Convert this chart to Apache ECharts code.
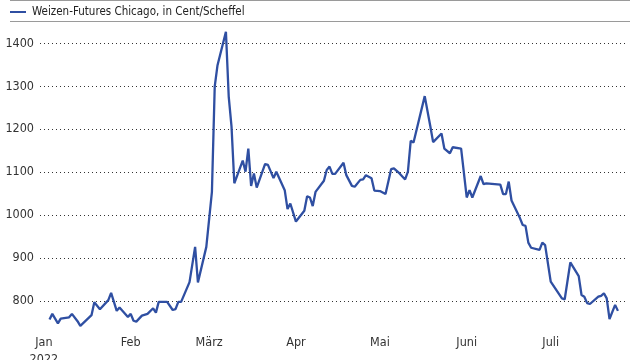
<!DOCTYPE html>
<html><head><meta charset="utf-8">
<script src="https://cdn.jsdelivr.net/npm/echarts@6/dist/echarts.min.js"></script>
<style>html,body{margin:0;padding:0;background:#fff}#c{width:640px;height:360px}</style>
</head><body><div id="c"></div>
<script>
const seriesName = 'Weizen-Futures Chicago, in Cent/Scheffel';
const dates = [
 '2022-01-03','2022-01-04','2022-01-06','2022-01-07','2022-01-10','2022-01-11','2022-01-13','2022-01-14','2022-01-18','2022-01-19',
 '2022-01-21','2022-01-24','2022-01-25','2022-01-27','2022-01-28','2022-01-31','2022-02-01','2022-02-02','2022-02-03','2022-02-05',
 '2022-02-07','2022-02-09','2022-02-10','2022-02-11','2022-02-14','2022-02-16','2022-02-17','2022-02-18','2022-02-19','2022-02-22',
 '2022-02-24','2022-02-25','2022-02-28','2022-03-02','2022-03-03','2022-03-04','2022-03-07','2022-03-08','2022-03-09','2022-03-10',
 '2022-03-13','2022-03-14','2022-03-15','2022-03-16','2022-03-17','2022-03-18','2022-03-21','2022-03-22','2022-03-24','2022-03-25',
 '2022-03-28','2022-03-29','2022-03-30','2022-04-01','2022-04-04','2022-04-05','2022-04-06','2022-04-07','2022-04-08','2022-04-11',
 '2022-04-12','2022-04-13','2022-04-14','2022-04-15','2022-04-18','2022-04-19','2022-04-21','2022-04-22','2022-04-24','2022-04-25',
 '2022-04-26','2022-04-28','2022-04-29','2022-05-01','2022-05-03','2022-05-05','2022-05-06','2022-05-08','2022-05-10','2022-05-11',
 '2022-05-12','2022-05-13','2022-05-17','2022-05-19','2022-05-20','2022-05-23','2022-05-24','2022-05-26','2022-05-27','2022-05-30',
 '2022-06-01','2022-06-02','2022-06-03','2022-06-06','2022-06-07','2022-06-08','2022-06-13','2022-06-14','2022-06-15','2022-06-16',
 '2022-06-17','2022-06-20','2022-06-21','2022-06-22','2022-06-23','2022-06-24','2022-06-27','2022-06-28','2022-06-29','2022-07-01',
 '2022-07-05','2022-07-06','2022-07-08','2022-07-11','2022-07-12','2022-07-13','2022-07-14','2022-07-15','2022-07-18','2022-07-19',
 '2022-07-20','2022-07-21','2022-07-22','2022-07-24','2022-07-25'
];
const prices = [
 757,770,748,759,762,770,753,742,767,797,
 781,802,819,777,785,763,770,754,752,766,
 770,783,773,798,798,779,781,798,798,844,
 926,843,926,1054,1299,1349,1427,1276,1206,1074,
 1127,1101,1155,1068,1097,1064,1119,1117,1086,1101,
 1058,1014,1027,985,1010,1044,1041,1021,1054,1080,
 1105,1113,1096,1096,1122,1093,1068,1066,1082,1083,
 1093,1086,1057,1056,1049,1107,1109,1097,1083,1101,
 1173,1169,1277,1207,1170,1190,1155,1144,1158,1155,
 1041,1058,1041,1091,1072,1074,1071,1049,1049,1078,
 1034,993,977,975,936,924,919,936,930,845,
 806,804,890,858,814,810,795,793,810,812,
 818,806,758,791,777
];
const monthStarts = ['2022-01-01','2022-02-01','2022-03-01','2022-04-01','2022-05-01','2022-06-01','2022-07-01'];
const monthLabels = ['Jan\n2022','Feb','März','Apr','Mai','Juni','Juli'];
const yTicks = [800, 900, 1000, 1100, 1200, 1300, 1400];

function dayOf(s){
  const p = s.split('-').map(Number);
  return (Date.UTC(p[0], p[1]-1, p[2]) - Date.UTC(2022,0,1)) / 86400000;
}
const monthDays = monthStarts.map(dayOf);
const data = dates.map((d,i)=>[dayOf(d), prices[i]]);
const FONT = '"Liberation Sans Narrow","DejaVu Sans Condensed",sans-serif';

const chart = echarts.init(document.getElementById('c'), null, {renderer:'canvas'});
chart.setOption({
  animation:false,
  backgroundColor:'#fff',
  graphic:[
    {type:'line', shape:{x1:10,y1:0.5,x2:630,y2:0.5}, style:{stroke:'#9a9a9a', lineWidth:1}},
    {type:'line', shape:{x1:10,y1:21.5,x2:630,y2:21.5}, style:{stroke:'#9a9a9a', lineWidth:1}}
  ],
  legend:{
    left:10, top:6, padding:0, itemWidth:16, itemHeight:2, itemGap:10, icon:'rect',
    textStyle:{fontFamily:FONT, fontSize:11.5, color:'#222', padding:[0,0,0,1]},
    data:[seriesName]
  },
  grid:{left:40, right:12, top:43.3, bottom:59, containLabel:false, outerBoundsMode:'none'},
  xAxis:{
    type:'value', min:-1.4, max:208.6,
    axisLine:{show:false}, axisTick:{show:false}, splitLine:{show:false},
    axisLabel:{
      customValues: monthDays,
      formatter:function(v){ const i = monthDays.indexOf(v); return i>=0 ? monthLabels[i] : ''; },
      fontFamily:FONT, fontSize:12.5, color:'#333', margin:33, lineHeight:17, align:'center',
      verticalAlign:'top'
    }
  },
  yAxis:{
    type:'value', min:yTicks[0], max:yTicks[yTicks.length-1], interval:100,
    axisLine:{show:false}, axisTick:{show:false},
    axisLabel:{fontFamily:FONT, fontSize:12.5, color:'#333', margin:6, formatter:function(v){return String(v);}},
    splitLine:{show:true, lineStyle:{type:[1,3], color:'#333', width:1}}
  },
  series:[{
    name:seriesName, type:'line', data:data, showSymbol:false, clip:false,
    lineStyle:{color:'#2f4fa2', width:2.3}, itemStyle:{color:'#2f4fa2'}
  }]
});
</script></body></html>
